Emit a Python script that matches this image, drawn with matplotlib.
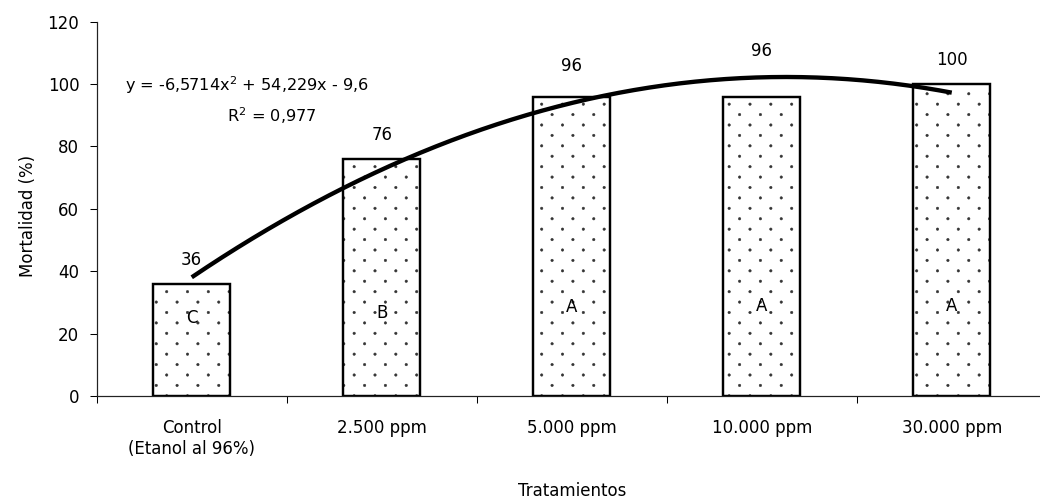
import matplotlib
matplotlib.use("Agg")
import matplotlib.pyplot as plt
import matplotlib.hatch as mhatch
from matplotlib.path import Path
import numpy as np

# Treatments and mean mortality (%)
categories = ["Control\n(Etanol al 96%)", "2.500 ppm", "5.000 ppm", "10.000 ppm", "30.000 ppm"]
mortality = [36, 76, 96, 96, 100]
groups = ["C", "B", "A", "A", "A"]

# Quadratic trend: y = a*x^2 + b*x + c, with x = 1..5 for the treatments
trend_coef = [-6.5714, 54.229, -9.6]
r_squared = "0,977"

yticks = [0, 20, 40, 60, 80, 100, 120]

# Label heights (data units)
value_label_y = [43.6, 83.7, 105.8, 110.6, 107.7]
group_label_y = [25, 26.6, 28.6, 29, 29]


class StaggeredDots(mhatch.HatchPatternBase):
    """Small filled dots: rows twice as close as the dots within a row,
    every other row shifted by half a step."""
    radius = 0.0098

    def __init__(self, hatch, density):
        self.ncols = hatch.count('.') * density
        self.nrows = 2 * self.ncols
        circle = Path.unit_circle()
        self.shape_vertices = circle.vertices * self.radius
        self.shape_codes = circle.codes
        if self.ncols == 0:
            self.num_vertices = 0
        else:
            n_shapes = sum(self.ncols + 1 if r % 2 == 0 else self.ncols
                           for r in range(self.nrows + 1))
            self.num_vertices = n_shapes * len(self.shape_vertices)

    def set_vertices_and_codes(self, vertices, codes):
        step = 1.0 / self.ncols
        vparts, cparts = [], []
        for row in range(self.nrows + 1):
            if row % 2 == 0:
                cols = np.linspace(0, 1, self.ncols + 1)
            else:
                cols = np.linspace(step / 2, 1 - step / 2, self.ncols)
            y = row / self.nrows
            for cx in cols:
                vparts.append(self.shape_vertices + [cx, y])
                cparts.append(self.shape_codes)
        np.concatenate(vparts, out=vertices)
        np.concatenate(cparts, out=codes)


mhatch._hatch_types = [StaggeredDots if t is mhatch.SmallFilledCircles else t
                       for t in mhatch._hatch_types]

plt.rcParams['font.family'] = ['DejaVu Sans']
plt.rcParams['hatch.linewidth'] = 0.3
plt.rcParams['mathtext.fontset'] = 'dejavusans'

FS = 9.6

fig = plt.figure(figsize=(8.32, 4.032), dpi=125)
ax = fig.add_axes([0.093, 0.2143, 0.9135, 0.7426])

x = np.arange(len(categories))
width = 0.405

# dotted fill, then the black outline on top
ax.bar(x, mortality, width, color='white', edgecolor='#333333', linewidth=0,
       hatch='.', zorder=2)
ax.bar(x, mortality, width, fill=False, edgecolor='black', linewidth=1.4, zorder=3)

# trend curve
xs = np.linspace(1, 5, 300)
ys = np.polyval(trend_coef, xs)
ax.plot(xs - 1, ys, color='black', lw=2.5, zorder=5, solid_capstyle='butt')

# value and group labels
for xi, v, ly in zip(x, mortality, value_label_y):
    ax.text(xi, ly, f"{v}", ha='center', va='center', fontsize=FS, zorder=6)
for xi, g, gy in zip(x, groups, group_label_y):
    ax.text(xi, gy, g, ha='center', va='center', fontsize=FS, zorder=6)

# equation and R^2
eq = r"y = -6,5714x$^{2}$ + 54,229x - 9,6"
ax.text(0.29, 99.7, eq, ha='center', va='center', fontsize=FS - 0.3, zorder=6)
ax.text(0.421, 90.0, r"R$^{2}$ = " + r_squared, ha='center', va='center',
        fontsize=FS - 0.3, zorder=6)

# axes
ax.set_xlim(-0.5, len(categories) - 0.5)
ax.set_ylim(0, 120)
ax.set_yticks(yticks)
ax.set_xticks(np.arange(-0.5, len(categories), 1.0))
ax.set_xticklabels([])
ax.set_xticks(x, minor=True)
ax.set_xticklabels(categories, minor=True, fontsize=FS, linespacing=1.25,
                   va='top')
ax.tick_params(axis='x', which='major', length=4, width=0.6, direction='out')
ax.tick_params(axis='x', which='minor', length=0, pad=13)
ax.tick_params(axis='y', length=4, width=0.6, direction='out', pad=6,
               labelsize=FS)

for s in ['top', 'right']:
    ax.spines[s].set_visible(False)
for s in ['left', 'bottom']:
    ax.spines[s].set_linewidth(0.7)
    ax.spines[s].set_color('#222222')
ax.spines['bottom'].set_zorder(4)

ax.set_ylabel("Mortalidad (%)", fontsize=FS)
ax.yaxis.set_label_coords(-0.063, 0.48)
ax.set_xlabel("Tratamientos", fontsize=FS, va='center')
ax.xaxis.set_label_coords(0.5, -0.254)

fig.savefig("out.png", dpi=125)
